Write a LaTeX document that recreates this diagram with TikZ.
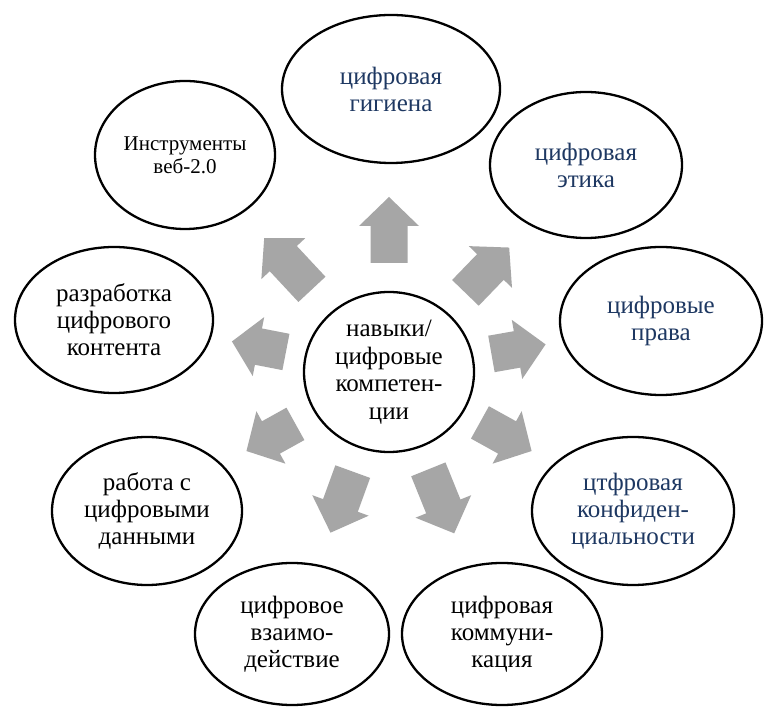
\documentclass[tikz,border=0pt]{standalone}
\usepackage{fontspec}
\setmainfont{Liberation Serif}
\usetikzlibrary{shapes.geometric}
\definecolor{txtblue}{RGB}{30,56,98}
\definecolor{arrgray}{RGB}{166,166,166}
\begin{document}
\begin{tikzpicture}[x=1pt,y=1pt,
  oval/.style={ellipse, draw=black, line width=2.3pt, inner sep=0pt, align=center,
    font=\fontsize{25}{27}\selectfont},
  bluetext/.style={text=txtblue},
  blockarrow/.style={fill=arrgray, draw=none}]
\useasboundingbox (0,0) rectangle (767,706);
\fill[white] (0,0) rectangle (767,706);

% centre
\node[oval, minimum width=170pt, minimum height=160pt] (core) at (389,334) {};
\node[align=center, font=\fontsize{25}{27.5}\selectfont] (coretext) at (core.center) {навыки/\\цифровые\\компетен-\\ции};
\coordinate (hub) at (389,334);

% outer bubbles
\node[oval, bluetext, minimum width=218pt, minimum height=148pt] (hyg) at (391,617) {цифровая\\гигиена};
\node[oval, bluetext, minimum width=192pt, minimum height=146pt] (eth) at (586,541) {цифровая\\этика};
\node[oval, bluetext, minimum width=202pt, minimum height=148pt] (rights) at (661,385) {цифровые\\права};
\node[oval, bluetext, minimum width=202pt, minimum height=148pt] (priv) at (633,195) {цтфровая\\конфиден-\\циальности};
\node[oval, minimum width=200pt, minimum height=142pt] (comm) at (502,72) {цифровая\\коммуни-\\кация};
\node[oval, minimum width=194pt, minimum height=142pt] (inter) at (292,72) {цифровое\\взаимо-\\действие};
\node[oval, minimum width=190pt, minimum height=148pt] (data) at (147,195) {работа с\\цифровыми\\данными};
\node[oval, minimum width=198pt, minimum height=146pt] (content) at (114,386) {разработка\\цифрового\\контента};
\node[oval, font=\fontsize{21}{23}\selectfont, minimum width=180pt, minimum height=148pt] (web) at (185,551) {Инструменты\\веб-2.0};

% block arrows: angle / tail / head base / tip
\foreach \a/\t/\b/\p in {90/109/146/175, 46/110/146/173, 10/104/130/159, -29/104/135/163,
    -68/105/145/174, -110/106/142/171, -151/107/135/163, 169/105/133/160, 133/113/155/183} {
  \begin{scope}[shift={(hub)}, rotate=\a]
    \fill[blockarrow] (\t,-18.5) -- (\b,-18.5) -- (\b,-30) -- (\p,0) -- (\b,30) -- (\b,18.5) -- (\t,18.5) -- cycle;
  \end{scope}
}
\end{tikzpicture}
\end{document}
